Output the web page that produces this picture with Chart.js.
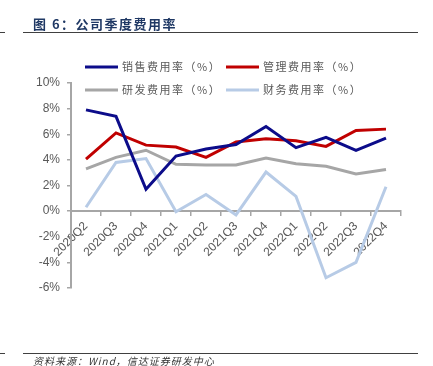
<!DOCTYPE html>
<html>
<head>
<meta charset="utf-8">
<script src="https://cdn.jsdelivr.net/npm/chart.js@4.4.1/dist/chart.umd.min.js"></script>
<style>
  body { margin: 0; background: #fff; }
  #wrap { position: relative; width: 433px; height: 366px; overflow: hidden; }
  #chart { position: absolute; left: 0; top: 0; }
  .title { position: absolute; left: 33px; top: 14px; font: bold 13px "Noto Sans CJK SC", sans-serif; color: #1f3864; letter-spacing: 1.5px; }
  .rule { position: absolute; height: 1px; background: #404040; }
  .source { position: absolute; left: 33px; top: 353px; font: italic 10px "Noto Sans CJK SC", sans-serif; color: #333; letter-spacing: 1px; }
</style>
</head>
<body>
<div id="wrap">
  <canvas id="chart" width="433" height="366"></canvas>
  <div class="title">图 6：公司季度费用率</div>
  <div class="rule" style="left:0;top:32px;width:5px"></div>
  <div class="rule" style="left:23px;top:32px;width:395px"></div>
  <div class="rule" style="left:0;top:353px;width:5px"></div>
  <div class="rule" style="left:23px;top:353px;width:395px"></div>
  <div class="source">资料来源：Wind，信达证券研发中心</div>
</div>
<script>
const quarters = ['2020Q2', '2020Q3', '2020Q4', '2021Q1', '2021Q2', '2021Q3', '2021Q4', '2022Q1', '2022Q2', '2022Q3', '2022Q4'];
const salesRate = [7.9, 7.4, 1.7, 4.3, 4.85, 5.2, 6.6, 4.95, 5.75, 4.75, 5.7];
const adminRate = [4.05, 6.1, 5.15, 5.0, 4.2, 5.4, 5.65, 5.5, 5.05, 6.3, 6.4];
const rdRate = [3.3, 4.2, 4.75, 3.65, 3.6, 3.6, 4.15, 3.7, 3.5, 2.9, 3.25];
const financeRate = [0.3, 3.8, 4.1, -0.05, 1.3, -0.3, 3.05, 1.15, -5.2, -4.0, 1.9];

const seriesNames = ['销售费用率（%）', '管理费用率（%）', '研发费用率（%）', '财务费用率（%）'];
const seriesColors = ['#0c0c8a', '#c00000', '#a6a6a6', '#b7cbe6'];

// legend laid out as 2x2 grid like the original
const gridLegend = {
  id: 'gridLegend',
  afterDraw(chart) {
    const ctx = chart.ctx;
    const cols = [85, 226];
    const rows = [67, 90];
    ctx.save();
    ctx.font = '11px "Noto Sans CJK SC", sans-serif';
    ctx.letterSpacing = '1.5px';
    ctx.textBaseline = 'middle';
    chart.data.datasets.forEach((ds, i) => {
      const x = cols[i % 2];
      const y = rows[Math.floor(i / 2)];
      ctx.strokeStyle = ds.borderColor;
      ctx.lineWidth = 3;
      ctx.beginPath();
      ctx.moveTo(x, y);
      ctx.lineTo(x + 33, y);
      ctx.stroke();
      ctx.fillStyle = '#595959';
      ctx.fillText(ds.label, x + 37, y);
    });
    ctx.restore();
  }
};

const datasets = [salesRate, adminRate, rdRate, financeRate].map((vals, i) => ({
  label: seriesNames[i],
  data: vals,
  borderColor: seriesColors[i],
  backgroundColor: seriesColors[i],
  borderWidth: 3,
  pointRadius: 0,
  tension: 0,
  fill: false,
  order: i + 1,
}));

new Chart(document.getElementById('chart'), {
  type: 'line',
  data: { labels: quarters, datasets },
  options: {
    responsive: false,
    animation: false,
    layout: { padding: { left: 0, right: 32, top: 83, bottom: 78 } },
    plugins: { legend: { display: false }, tooltip: { enabled: false } },
    scales: {
      x: {
        position: { y: 0 },
        offset: true,
        grid: { offset: true, drawOnChartArea: false, drawTicks: true, tickLength: 4, color: '#a6a6a6', lineWidth: 1.5 },
        border: { color: '#a6a6a6', width: 2 },
        ticks: {
          color: '#595959',
          font: { family: 'Liberation Sans', size: 12 },
          minRotation: 45,
          maxRotation: 45,
          padding: 4,
          autoSkip: false,
        },
      },
      y: {
        min: -6,
        max: 10,
        afterFit: (s) => { s.width = 71; },
        grid: { drawOnChartArea: false, drawTicks: true, tickLength: 4, color: '#a6a6a6', lineWidth: 1.5 },
        border: { color: '#a6a6a6', width: 2 },
        ticks: {
          stepSize: 2,
          color: '#595959',
          font: { family: 'Liberation Sans', size: 12 },
          padding: 7,
          callback: (v) => v + '%',
        },
      },
    },
  },
  plugins: [gridLegend],
});
</script>
</body>
</html>
